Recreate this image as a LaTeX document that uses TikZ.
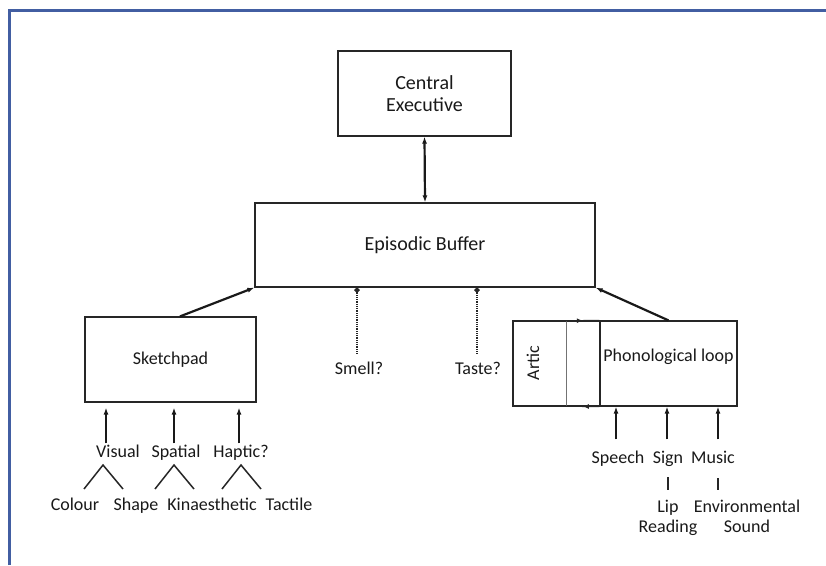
\documentclass[tikz,border=0pt]{standalone}
\usepackage{fontspec}
\setmainfont{Carlito}
\usetikzlibrary{arrows.meta,decorations.markings}
\definecolor{framecol}{RGB}{66,94,162}

\begin{document}
\begin{tikzpicture}[x=1pt,y=-1pt,
  >={Latex[length=7pt,width=5pt]},
  box/.style={draw=black!85,line width=1.2pt,inner sep=0pt},
  lbl/.style={text=black!90,font=\fontsize{18}{20}\selectfont,inner sep=1pt,anchor=base},
  big/.style={text=black!90,font=\fontsize{20}{22}\selectfont,align=center},
  feed/.style={->,draw=black!90,line width=2.2pt},
  input/.style={->,draw=black!90,line width=1.7pt},
  sense/.style={{Circle[length=5pt]}-,draw=black!85,line width=2pt,dash pattern=on 1pt off 0.8pt},
  branch/.style={draw=black!85,line width=1.5pt},
  loopmark/.style={draw=black!85,line width=1.2pt,decoration={markings,mark=at position 0.5 with {\arrow{Latex[length=6pt,width=5pt]}}},postaction={decorate}}]
\useasboundingbox (0,0) rectangle (826,565);
\draw[line width=3pt,framecol] (9,565) -- (9,10) -- (826,10);

% central part
\node[box,big,minimum width=173pt,minimum height=85pt] (ce) at (424.5,93.5) {Central\\Executive};
\node[box,big,minimum width=340pt,minimum height=84pt] (eb) at (425,245) {Episodic Buffer};
\draw[feed,<->] (ce.south) -- (eb.north);

% sketchpad side
\node[box,lbl,anchor=center,minimum width=171pt,minimum height=85pt] (sk) at (170.5,359.5) {Sketchpad};
\draw[feed] ([xshift=9.5pt]sk.north) -- (eb.south west);
\node[lbl] (vis) at (118,457) {Visual};
\node[lbl] (spa) at (176,457) {Spatial};
\node[lbl] (hap) at (241,457) {Haptic?};
\draw[input,shorten >=5pt] ([xshift=-12pt]vis.north) -- ([xshift=-12pt]vis.north |- sk.south);
\draw[input,shorten >=5pt] ([xshift=-2pt]spa.north) -- ([xshift=-2pt]spa.north |- sk.south);
\draw[input,shorten >=5pt] ([xshift=-2pt]hap.north) -- ([xshift=-2pt]hap.north |- sk.south);
\node[lbl] (col) at (75,510) {Colour};
\node[lbl] (shp) at (136,510) {Shape};
\node[lbl] (kin) at (212,510) {Kinaesthetic};
\node[lbl] (tac) at (289,510) {Tactile};
\foreach \x in {103,174,241}
  \draw[branch] (\x-19,489) -- (\x,465) -- (\x+20,489);

% smell and taste
\node[lbl] (smell) at (359,374) {Smell?};
\node[lbl] (taste) at (478,374) {Taste?};
\draw[sense] ([xshift=-2pt]smell.north |- eb.south) -- ([xshift=-2pt,yshift=7pt]smell.north);
\draw[sense] ([xshift=-1pt]taste.north |- eb.south) -- ([xshift=-1pt,yshift=7pt]taste.north);

% phonological loop side
\node[box,minimum width=224pt,minimum height=85pt] (pl) at (625,363.5) {};
\node[box,minimum width=137pt,minimum height=85pt] (ph) at (668.5,363.5) {};
\node[lbl] (phl) at (668.5,361) {Phonological loop};
\node[inner sep=0pt,minimum width=53pt,minimum height=85pt] (ar) at (539.5,363.5) {};
\draw[black!55,line width=0.9pt] (ar.north east) -- (ar.south east);
\node[lbl,rotate=90,anchor=center] (artic) at (533,363) {Artic};
\draw[loopmark] (ar.north east) -- (ph.north west);
\draw[loopmark] (ph.south west) -- (ar.south east);
\draw[feed] (ph.north) -- (eb.south east);
\node[lbl] (spe) at (618,463) {Speech};
\node[lbl] (sgn) at (668,463) {Sign};
\node[lbl] (mus) at (713,463) {Music};
\draw[input] ([xshift=-2pt,yshift=10pt]spe.north) -- ([xshift=-2pt]spe.north |- ph.south);
\draw[input] ([xshift=-1pt,yshift=10pt]sgn.north) -- ([xshift=-1pt]sgn.north |- ph.south);
\draw[input] ([xshift=5pt,yshift=10pt]mus.north) -- ([xshift=5pt]mus.north |- ph.south);
\node[lbl,align=center,anchor=north] (lip) at (668,499) {Lip\\Reading};
\node[lbl,align=center,anchor=north] (env) at (747,499) {Environmental\\Sound};
\draw[branch] ([yshift=-10pt]sgn.south) -- ([yshift=9pt]lip.north);
\draw[branch] ([xshift=5pt,yshift=-14pt]mus.south) -- ([xshift=5pt,yshift=9pt]mus.south |- env.north);
\end{tikzpicture}
\end{document}
